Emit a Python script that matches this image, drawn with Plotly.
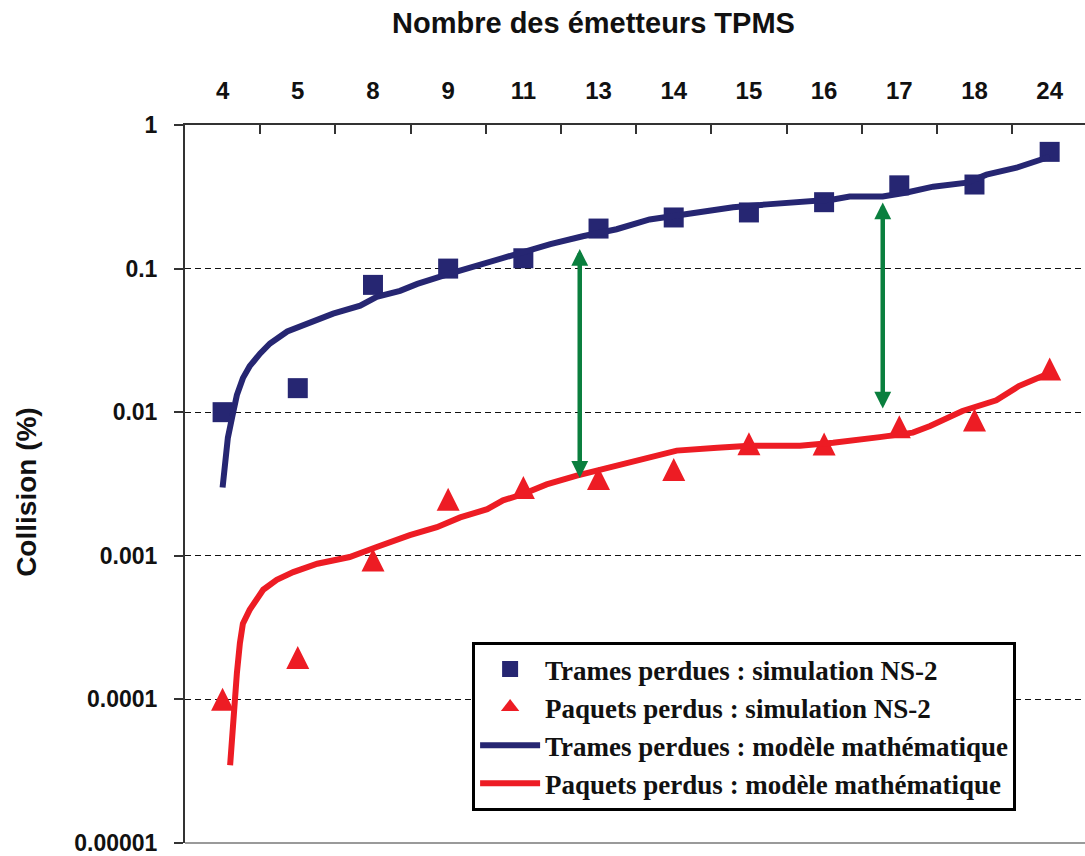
import math
import plotly.graph_objects as go

# Number of TPMS transmitters (category labels on the top axis)
emitters = ["4", "5", "8", "9", "11", "13", "14", "15", "16", "17", "18", "24"]
cat_pos = list(range(len(emitters)))

# NS-2 simulation results (%)
frames_sim = [0.010, 0.0147, 0.077, 0.100, 0.118, 0.190, 0.227, 0.246, 0.290, 0.380, 0.385, 0.650]
packets_sim = [0.000100, 0.000196, 0.000935, 0.00247, 0.00299, 0.00345, 0.00398, 0.00603,
               0.00600, 0.00790, 0.00883, 0.0200]

# Mathematical model curves, sampled along the category axis
frames_model_x = [0.0, 0.045, 0.07, 0.125, 0.19, 0.27, 0.36, 0.50, 0.63, 0.86, 1.12, 1.47, 1.83,
                  2.05, 2.36, 2.59, 3.01, 3.49, 3.98, 4.36, 4.79, 5.24, 5.68, 6.35, 6.79, 7.24,
                  7.68, 8.12, 8.34, 8.78, 9.10, 9.45, 9.90, 10.16, 10.56, 10.78, 11.0]
frames_model_y = [0.00299, 0.00522, 0.00663, 0.00912, 0.01315, 0.01726, 0.0209, 0.02566, 0.0301,
                  0.0365, 0.0414, 0.0485, 0.0551, 0.0636, 0.070, 0.0782, 0.0918, 0.109, 0.132,
                  0.148, 0.168, 0.188, 0.220, 0.246, 0.267, 0.280, 0.293, 0.303, 0.318, 0.318,
                  0.339, 0.372, 0.397, 0.451, 0.504, 0.555, 0.601]

packets_model_x = [0.10, 0.14, 0.19, 0.23, 0.27, 0.36, 0.54, 0.72, 0.94, 1.26, 1.69, 2.05, 2.49,
                   2.85, 3.16, 3.52, 3.73, 3.99, 4.31, 4.71, 5.02, 5.46, 6.04, 6.58, 7.01, 7.68,
                   8.12, 8.74, 9.18, 9.41, 9.84, 10.29, 10.59, 10.93]
packets_model_y = [3.47e-5, 7.3e-5, 1.52e-4, 2.46e-4, 3.37e-4, 4.2e-4, 5.8e-4, 6.8e-4, 7.7e-4,
                   8.8e-4, 9.8e-4, 1.15e-3, 1.39e-3, 1.58e-3, 1.85e-3, 2.11e-3, 2.43e-3, 2.68e-3,
                   3.14e-3, 3.62e-3, 3.98e-3, 4.6e-3, 5.4e-3, 5.65e-3, 5.84e-3, 5.84e-3, 6.12e-3,
                   6.7e-3, 7.2e-3, 8.0e-3, 1.02e-2, 1.21e-2, 1.52e-2, 1.81e-2]

# Gap indicators between the two model curves: (category position, upper %, lower %)
gaps = [(4.75, 0.137, 0.0034), (8.78, 0.289, 0.01035)]

y_ticks = [1, 0.1, 0.01, 0.001, 0.0001, 0.00001]
y_ticktext = ["1", "0.1", "0.01", "0.001", "0.0001", "0.00001"]

NAVY = "#262672"
RED = "#ED1C24"
GREEN = "#0A7F3E"
SANS = "Liberation Sans, Arial, sans-serif"
SERIF = "Liberation Serif, Times New Roman, serif"

fig = go.Figure()

fig.add_trace(go.Scatter(
    x=cat_pos, y=frames_sim, mode="markers",
    name="Trames perdues : simulation NS-2",
    marker=dict(symbol="square", size=20, color=NAVY),
))
# Upright triangles centred on their values (drawn here, keyed in the legend below)
fig.add_trace(go.Scatter(
    x=cat_pos, y=packets_sim, mode="markers",
    name="Paquets perdus : simulation NS-2", showlegend=False,
    marker=dict(symbol="arrow-down", angle=180, standoff=11.5, size=23, color=RED),
))
fig.add_trace(go.Scatter(
    x=[None], y=[None], mode="markers",
    name="Paquets perdus : simulation NS-2",
    marker=dict(symbol="triangle-up", size=18, color=RED),
))
fig.add_trace(go.Scatter(
    x=frames_model_x, y=frames_model_y, mode="lines",
    name="Trames perdues : modèle mathématique",
    line=dict(color=NAVY, width=6),
))
fig.add_trace(go.Scatter(
    x=packets_model_x, y=packets_model_y, mode="lines",
    name="Paquets perdus : modèle mathématique",
    line=dict(color=RED, width=6),
))

annotations = []
for gx, top, bottom in gaps:
    annotations.append(dict(
        x=gx, y=math.log10(top), ax=gx, ay=math.log10(bottom),
        xref="x", yref="y", axref="x", ayref="y",
        text="", showarrow=True, arrowside="end+start",
        arrowhead=2, startarrowhead=2, arrowsize=0.75, startarrowsize=0.75,
        arrowwidth=4.5, arrowcolor=GREEN,
    ))

annotations.append(dict(
    text="Nombre des émetteurs TPMS", xref="paper", yref="paper",
    x=0.454, y=1.1427, xanchor="center", yanchor="middle", showarrow=False,
    font=dict(family=SANS, size=29, color="#111", weight="bold"),
))
annotations.append(dict(
    text="Collision (%)", xref="paper", yref="paper", textangle=-90,
    x=-0.1756, y=0.489, xanchor="center", yanchor="middle", showarrow=False,
    font=dict(family=SANS, size=28, color="#111", weight="bold"),
))

fig.update_layout(
    width=1085, height=856,
    margin=dict(l=185, r=0, t=125, b=7),
    paper_bgcolor="white", plot_bgcolor="white",
    showlegend=True,
    legend=dict(
        x=0.319, y=0.28, xanchor="left", yanchor="top",
        bgcolor="white", bordercolor="black", borderwidth=3,
        font=dict(family=SERIF, size=27, color="#111", weight="bold"),
        itemwidth=60, tracegroupgap=0,
    ),
    annotations=annotations,
    shapes=[dict(type="line", xref="paper", yref="paper", x0=0, x1=1, y0=0, y1=0,
                 line=dict(color="#9a9a9a", width=2), layer="above")],
)

fig.update_xaxes(
    range=[-0.5, 11.47], side="top",
    tickmode="array", tickvals=cat_pos, ticktext=emitters,
    ticks="", ticklabelstandoff=14,
    tickfont=dict(family=SANS, size=24, color="#111", weight="bold"),
    showline=True, linecolor="#333", linewidth=2,
    showgrid=False, zeroline=False,
    minor=dict(tickmode="array", tickvals=[i + 0.5 for i in cat_pos[:-1]],
               ticks="inside", ticklen=9, tickwidth=2, tickcolor="#333", showgrid=False),
)
fig.update_yaxes(
    type="log", range=[-5.0005, 0],
    tickmode="array", tickvals=y_ticks, ticktext=y_ticktext,
    ticks="outside", ticklen=9, tickwidth=2, tickcolor="#333", ticklabelstandoff=12,
    ticklabeloverflow="allow",
    tickfont=dict(family=SANS, size=23, color="#111", weight="bold"),
    showline=True, linecolor="#333", linewidth=2,
    showgrid=True, gridcolor="#111", gridwidth=1.3, griddash="6px,4px",
    zeroline=False,
)

fig.write_html("out.html")
